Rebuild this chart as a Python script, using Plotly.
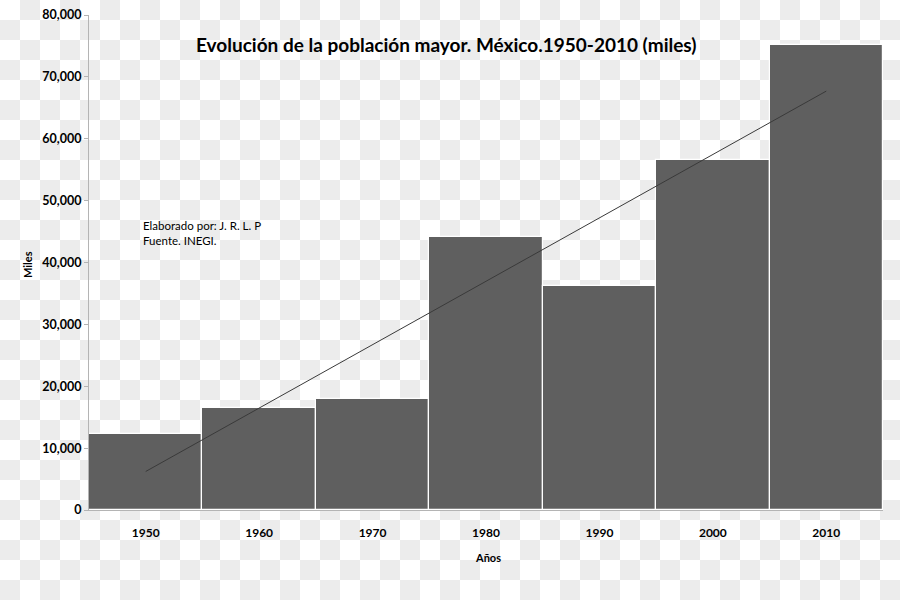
import base64
import numpy as np
import plotly.graph_objects as go

# Data
years = ["1950", "1960", "1970", "1980", "1990", "2000", "2010"]
miles = [12300, 16500, 17950, 44100, 36200, 56550, 75150]
y_ticks = [0, 10000, 20000, 30000, 40000, 50000, 60000, 70000, 80000]

title_text = "Evolución de la población mayor. México.1950-2010 (miles)"
note_text = "Elaborado por: J. R. L. P<br>Fuente. INEGI."

# Linear trend line from data
xi = np.arange(len(miles))
slope, intercept = np.polyfit(xi, miles, 1)
trend = list(slope * xi + intercept)

W, H = 900, 600
ML, MR, MT, MB = 89, 17, 15, 90
PW, PH = W - ML - MR, H - MT - MB

def px(x):
    return (x - ML) / PW

def py(y):
    return 1 - (y - MT) / PH

FONT = "Lato"

svg = (
    "<svg xmlns='http://www.w3.org/2000/svg' width='900' height='600'>"
    "<defs><pattern id='p' width='40' height='40' patternUnits='userSpaceOnUse'>"
    "<rect width='40' height='40' fill='#ffffff'/>"
    "<rect x='20' y='0' width='20' height='20' fill='#ececec'/>"
    "<rect x='0' y='20' width='20' height='20' fill='#ececec'/>"
    "</pattern></defs><rect width='900' height='600' fill='url(#p)'/></svg>"
)
svg_uri = "data:image/svg+xml;base64," + base64.b64encode(svg.encode()).decode()

fig = go.Figure()
fig.add_trace(go.Bar(
    x=years, y=miles,
    marker=dict(color="#5f5f5f", line=dict(color="#ffffff", width=1.2)),
    showlegend=False, hoverinfo="x+y",
))
fig.add_trace(go.Scatter(
    x=years, y=trend, mode="lines",
    line=dict(color="#3a3a3a", width=1),
    showlegend=False, hoverinfo="skip",
))

fig.update_layout(
    width=W, height=H,
    margin=dict(l=ML, r=MR, t=MT, b=MB),
    paper_bgcolor="#ffffff",
    plot_bgcolor="rgba(0,0,0,0)",
    bargap=0,
    font=dict(family=FONT, color="#000000"),
    images=[dict(
        source=svg_uri, xref="paper", yref="paper",
        x=px(0), y=py(0), sizex=W / PW, sizey=H / PH,
        xanchor="left", yanchor="top", sizing="stretch", layer="below",
    )],
    xaxis=dict(
        type="category", range=[-0.5, 6.5], automargin=False,
        showline=True, linecolor="#b4b4b4", linewidth=1,
        ticks="outside", ticklen=12, tickcolor="rgba(0,0,0,0)",
        tickfont=dict(family=FONT, size=12, weight="bold", color="#000"),
        showgrid=False, zeroline=False,
    ),
    yaxis=dict(
        range=[0, 80000], tickvals=y_ticks, tickformat=",", automargin=False,
        showline=True, linecolor="#b4b4b4", linewidth=1,
        ticks="outside", ticklen=4, tickcolor="#b4b4b4",
        tickfont=dict(family=FONT, size=12.5, weight="bold", color="#000"),
        showgrid=False, zeroline=False,
    ),
    annotations=[
        dict(text="<b>" + title_text + "</b>", xref="paper", yref="paper",
             x=px(446), y=py(45), xanchor="center", yanchor="middle",
             showarrow=False,
             font=dict(family=FONT, size=19, color="#000")),
        dict(text="<b>Miles</b>", xref="paper", yref="paper",
             x=px(27), y=py(265), xanchor="center", yanchor="middle",
             showarrow=False, textangle=-90,
             font=dict(family=FONT, size=11, color="#000")),
        dict(text="<b>Años</b>", xref="paper", yref="paper",
             x=px(488), y=py(557), xanchor="center", yanchor="middle",
             showarrow=False,
             font=dict(family=FONT, size=11, color="#000")),
        dict(text=note_text, xref="paper", yref="paper",
             x=px(141), y=py(217), xanchor="left", yanchor="top",
             align="left", showarrow=False,
             font=dict(family=FONT, size=11.5, color="#000")),
    ],
)

fig.write_html(
    "out.html",
    config={"displayModeBar": False},
    post_script="document.body.style.margin='0';document.body.style.overflow='hidden';",
)
